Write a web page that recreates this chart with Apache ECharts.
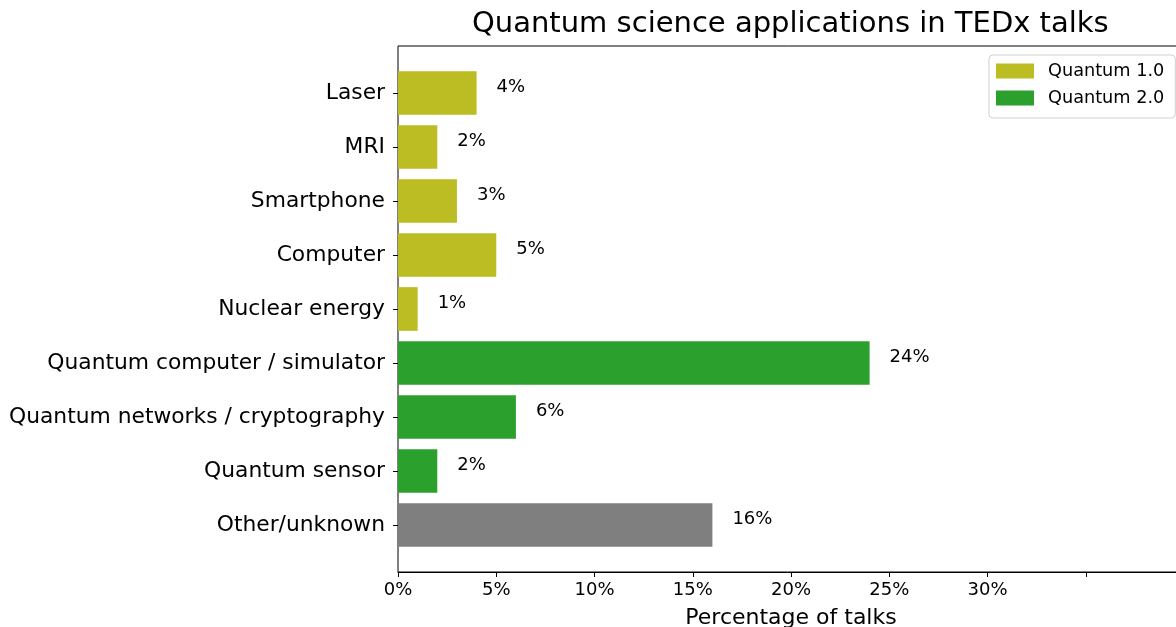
<!DOCTYPE html>
<html>
<head>
<meta charset="utf-8">
<script src="https://cdn.jsdelivr.net/npm/echarts@6/dist/echarts.min.js"></script>
<style>html,body{margin:0;padding:0;background:#fff}#c{width:1176px;height:627px}</style>
</head>
<body>
<div id="c"></div>
<script>
const categories = ['Laser', 'MRI', 'Smartphone', 'Computer', 'Nuclear energy', 'Quantum computer / simulator', 'Quantum networks / cryptography', 'Quantum sensor', 'Other/unknown'];
const quantum1 = [4, 2, 3, 5, 1, null, null, null, null];
const quantum2 = [null, null, null, null, null, 24, 6, 2, null];
const other = [null, null, null, null, null, null, null, null, 16];
const tickLabels = ['0%', '5%', '10%', '15%', '20%', '25%', '30%', '', ''];

const FONT = 'DejaVu Sans';
const chart = echarts.init(document.getElementById('c'), null, {renderer: 'canvas'});
const lbl = {show: true, position: 'right', distance: 20, offset: [0, -6], color: '#000', fontSize: 18, fontFamily: FONT, formatter: p => p.value + '%'};
chart.setOption({
  animation: false,
  title: {text: 'Quantum science applications in TEDx talks', left: 467, top: 5,
    textStyle: {fontFamily: FONT, fontSize: 29, fontWeight: 'normal', color: '#000'}},
  legend: {orient: 'vertical', left: 989, top: 55, data: ['Quantum 1.0', 'Quantum 2.0'], icon: 'rect',
    itemWidth: 38, itemHeight: 15, itemGap: 9, padding: [7, 11, 11, 7],
    borderColor: '#d0d0d0', borderWidth: 1, borderRadius: 4, backgroundColor: '#fff',
    textStyle: {fontFamily: FONT, fontSize: 17.7, color: '#000', padding: [0, 0, 0, 9]}},
  grid: [
    {left: 398, width: 786, top: 66, height: 486, outerBoundsMode: 'none', containLabel: false},
    {left: 398, width: 786, top: 46, height: 526, outerBoundsMode: 'none', containLabel: false, show: true, borderColor: '#000', borderWidth: 1, backgroundColor: 'transparent'}
  ],
  xAxis: [
    {gridIndex: 0, type: 'value', min: 0, max: 40, interval: 5, show: false},
    {gridIndex: 1, type: 'value', min: 0, max: 40, interval: 5, position: 'bottom',
      splitLine: {show: false},
      axisLine: {show: true, lineStyle: {color: '#000', width: 1}},
      axisTick: {show: true, inside: false, length: 5, lineStyle: {color: '#000'}},
      axisLabel: {margin: 9, color: '#000', fontSize: 18, fontFamily: FONT, formatter: (v, i) => tickLabels[i]},
      name: 'Percentage of talks', nameLocation: 'middle', nameGap: 35,
      nameTextStyle: {fontFamily: FONT, fontSize: 22, color: '#000'}}
  ],
  yAxis: [
    {gridIndex: 0, type: 'category', data: categories, inverse: true,
      axisLine: {show: false},
      axisTick: {show: true, alignWithLabel: true, length: 5, lineStyle: {color: '#000'}},
      axisLabel: {margin: 13, color: '#000', fontSize: 21.8, fontFamily: FONT}},
    {gridIndex: 1, type: 'value', show: false}
  ],
  series: [
    {name: 'Quantum 1.0', type: 'bar', stack: 's', data: quantum1, barCategoryGap: '19%', itemStyle: {color: '#bcbd22'}, label: lbl},
    {name: 'Quantum 2.0', type: 'bar', stack: 's', data: quantum2, itemStyle: {color: '#2ca02c'}, label: lbl},
    {name: 'Other', type: 'bar', stack: 's', data: other, itemStyle: {color: '#7f7f7f'}, label: lbl}
  ]
});
</script>
</body>
</html>
